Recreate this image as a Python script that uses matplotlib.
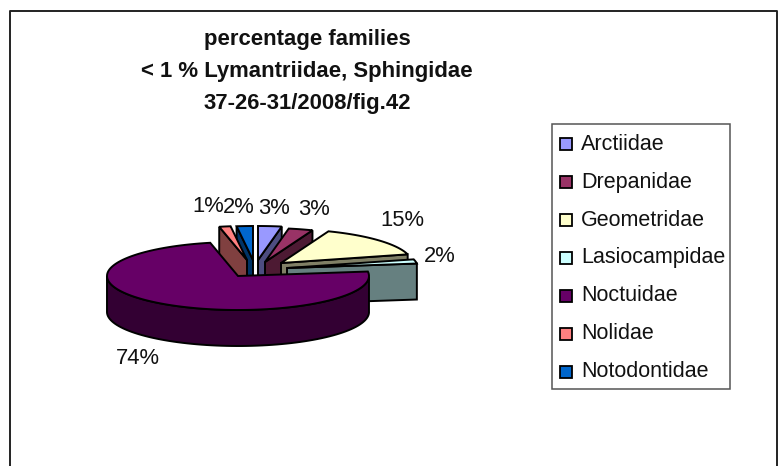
import matplotlib
matplotlib.use('Agg')
import matplotlib.pyplot as plt
from matplotlib.patches import Polygon, Rectangle
import numpy as np

families = ['Arctiidae', 'Drepanidae', 'Geometridae', 'Lasiocampidae',
            'Noctuidae', 'Nolidae', 'Notodontidae']
percent = [2.9, 3.0, 15.0, 2.0, 73.7, 1.4, 2.0]
colors = ['#9999FF', '#993366', '#FFFFCC', '#CCFFFF', '#660066', '#FF8080', '#0066CC']
title_lines = ['percentage families', '< 1 % Lymantriidae, Sphingidae', '37-26-31/2008/fig.42']

plt.rcParams['font.family'] = ['Liberation Sans', 'DejaVu Sans']

W, H = 779, 466
fig = plt.figure(figsize=(W / 100, H / 100), dpi=100)
ax = fig.add_axes([0, 0, 1, 1])
ax.set_xlim(0, W)
ax.set_ylim(H, 0)
ax.axis('off')

# pie geometry, pixels
cx, cy = 238, 276
rx, ry = 131, 34
depth = 36
lw = 1.4
# how far each slice is pulled out of the pie
shift = [(20, -16), (27, -14), (43, -13), (49, -8), (0, 0), (9, -16), (15, -16)]
label_pos = [(274, 208.5), (314, 209.5), (402, 220), (440, 256), (138, 359), (208, 206.5), (239, 207.5)]


def darker(c):
    rgb = np.array(matplotlib.colors.to_rgb(c))
    return tuple(rgb * 0.5)


def rim(x0, y0, a):
    # a is clockwise from 12 o'clock
    return np.column_stack([x0 + rx * np.sin(a), y0 - ry * np.cos(a)])


def draw_slice(i, start, end):
    x0, y0 = cx + shift[i][0], cy + shift[i][1]
    a = np.linspace(start, end, 120)
    dark = darker(colors[i])
    top = rim(x0, y0, a)
    apex = np.array([x0, y0])
    down = np.array([0, depth])
    # radial faces that look towards the viewer
    if np.sin(start) < 0:
        p = top[0]
        ax.add_patch(Polygon([apex, p, p + down, apex + down], fc=dark, ec='black', lw=lw, zorder=order[i]))
    if np.sin(end) > 0:
        p = top[-1]
        ax.add_patch(Polygon([apex, p, p + down, apex + down], fc=dark, ec='black', lw=lw, zorder=order[i]))
    # outer wall, front half only
    front = a[np.cos(a) <= 0]
    if len(front) > 1:
        w = rim(x0, y0, front)
        ax.add_patch(Polygon(np.vstack([w, (w + down)[::-1]]), fc=dark, ec='black', lw=lw, zorder=order[i]))
    ax.add_patch(Polygon(np.vstack([apex, top]), fc=colors[i], ec='black', lw=lw, zorder=order[i] + 0.5))


# back to front
order = [3, 4, 5, 6, 7, 2, 1]
edges = np.cumsum([0] + percent) / sum(percent) * 2 * np.pi
for i in range(len(percent)):
    draw_slice(i, edges[i], edges[i + 1])

for i, p in enumerate(percent):
    ax.text(label_pos[i][0], label_pos[i][1], '%d%%' % round(p), fontsize=15.8,
            ha='center', va='center', color='#111111', zorder=10)

# frame, runs off the bottom of the picture
ax.plot([10.5, 10.5, 777.5, 777.5], [H + 5, 10.5, 10.5, H + 5], color='#222222', lw=1.4, clip_on=True)

for line, y in zip(title_lines, [40, 71, 103]):
    ax.text(307, y, line, fontsize=15.9, fontweight='bold', ha='center', va='center', color='#111111')

# legend
ax.add_patch(Rectangle((552, 124), 178, 265, fc='white', ec='#555555', lw=1.1))
for i, name in enumerate(families):
    ax.add_patch(Rectangle((560, 138 + i * 38), 12, 12, fc=colors[i], ec='black', lw=1.3))
    ax.text(581, 144.5 + i * 37.8, name, fontsize=15.5, ha='left', va='center', color='#111111')

fig.savefig('out.png', dpi=100)
